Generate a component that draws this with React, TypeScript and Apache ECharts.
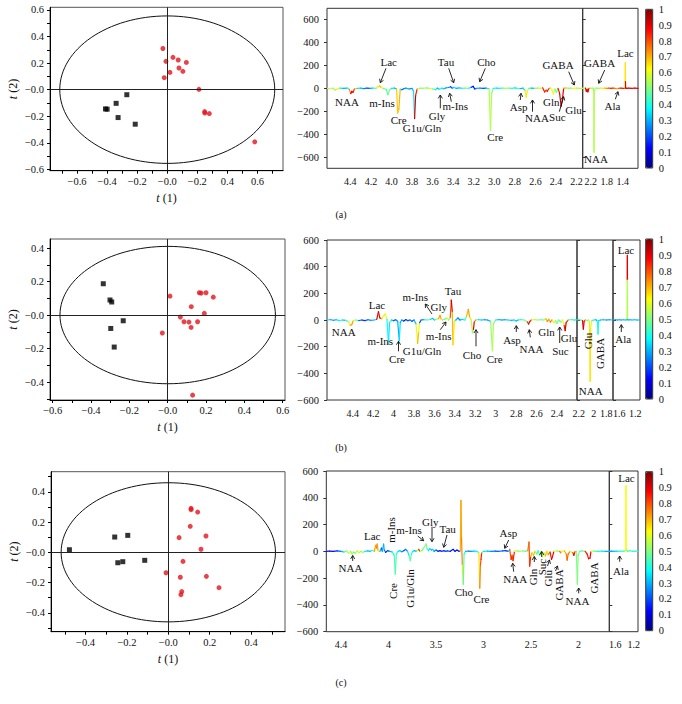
import React, { useEffect, useRef } from 'react';
import * as echarts from 'echarts';

type P3 = [number, number, number];

// ---------------- Score plots (t(1), t(2)) ----------------
const aRedX = [-0.029, -0.009, 0.038, 0.073, 0.127, 0.078, 0.104, 0.018, -0.02, 0.211, 0.249, 0.25, 0.28, 0.582];
const aRedY = [0.31, 0.213, 0.243, 0.223, 0.205, 0.163, 0.138, 0.13, 0.09, 0.002, -0.165, -0.176, -0.18, -0.393];
const aBlackX = [-0.269, -0.34, -0.411, -0.4, -0.327, -0.213];
const aBlackY = [-0.038, -0.103, -0.145, -0.147, -0.21, -0.26];
const aEllipse = [0.715, 0.555];
const aXTicks = [-0.6, -0.4, -0.2, 0, 0.2, 0.4, 0.6];
const aXTickText = ['−0.6', '−0.4', '−0.2', '−0.0', '−0.2', '0.4', '0.6'];
const aYTicks = [-0.6, -0.4, -0.2, 0, 0.2, 0.4, 0.6];
const aYTickText = ['−0.6', '−0.4', '−0.2', '−0.0', '0.2', '0.4', '0.6'];
const aXMinor = [-0.7, -0.6, -0.5, -0.4, -0.3, -0.2, -0.1, 0, 0.1, 0.2, 0.3, 0.4, 0.5, 0.6, 0.7];
const aYMinor = [-0.6, -0.5, -0.4, -0.3, -0.2, -0.1, 0, 0.1, 0.2, 0.3, 0.4, 0.5, 0.6];

const bRedX = [0.012, 0.165, 0.175, 0.2, 0.238, 0.123, 0.191, 0.066, 0.085, 0.111, 0.156, 0.122, -0.028, 0.13];
const bRedY = [0.113, 0.133, 0.131, 0.133, 0.107, 0.05, 0.01, -0.012, -0.04, -0.042, -0.04, -0.074, -0.107, -0.478];
const bBlackX = [-0.336, -0.301, -0.292, -0.232, -0.297, -0.279];
const bBlackY = [0.187, 0.09, 0.078, -0.034, -0.08, -0.191];
const bEllipse = [0.562, 0.41];
const bXTicks = [-0.6, -0.4, -0.2, 0, 0.2, 0.4, 0.6];
const bXTickText = ['−0.6', '−0.4', '−0.2', '−0.0', '0.2', '0.4', '0.6'];
const bYTicks = [-0.4, -0.2, 0, 0.2, 0.4];
const bYTickText = ['−0.4', '−0.2', '−0.0', '0.2', '0.4'];
const bXMinor = [-0.6, -0.5, -0.4, -0.3, -0.2, -0.1, 0, 0.1, 0.2, 0.3, 0.4, 0.5, 0.6];
const bYMinor = [-0.5, -0.4, -0.3, -0.2, -0.1, 0, 0.1, 0.2, 0.3, 0.4];

const cRedX = [0.11, 0.11, 0.142, 0.106, 0.052, 0.182, 0.158, 0.071, -0.011, 0.058, 0.184, 0.245, 0.065, 0.061];
const cRedY = [0.291, 0.282, 0.266, 0.172, 0.097, 0.108, 0.02, -0.06, -0.135, -0.165, -0.159, -0.234, -0.26, -0.28];
const cBlackX = [-0.478, -0.259, -0.196, -0.244, -0.22, -0.114];
const cBlackY = [0.017, 0.101, 0.112, -0.069, -0.062, -0.053];
const cEllipse = [0.518, 0.46];
const cXTicks = [-0.4, -0.2, 0, 0.2, 0.4];
const cXTickText = ['−0.4', '−0.2', '−0.0', '0.2', '0.4'];
const cYTicks = [-0.4, -0.2, 0, 0.2, 0.4];
const cYTickText = ['−0.4', '−0.2', '−0.0', '0.2', '0.4'];
const cXMinor = [-0.5, -0.4, -0.3, -0.2, -0.1, 0, 0.1, 0.2, 0.3, 0.4, 0.5];
const cYMinor = [-0.5, -0.4, -0.3, -0.2, -0.1, 0, 0.1, 0.2, 0.3, 0.4, 0.5];

// ---------------- Coefficient plots: [ppm, coefficient, |r|] ----------------
const specA1: P3[] = [
  [4.627, 0, 0.55], [4.6, -3, 0.6], [4.57, 2, 0.5], [4.545, -15, 0.65], [4.525, -2, 0.6], [4.5, 2, 0.35],
  [4.47, 0, 0.3], [4.43, 3, 0.4], [4.41, -8, 0.75], [4.395, -45, 0.9], [4.385, -25, 0.9], [4.375, -35, 0.85],
  [4.36, -5, 0.7], [4.33, 0, 0.35], [4.3, 3, 0.3], [4.27, -2, 0.25], [4.24, 2, 0.2], [4.21, 0, 0.3],
  [4.18, 3, 0.45], [4.15, 0, 0.55], [4.13, 15, 0.65], [4.115, 22, 0.7], [4.1, 8, 0.6], [4.08, 0, 0.5],
  [4.05, -8, 0.45], [4.035, -55, 0.5], [4.02, -15, 0.45], [4.0, 0, 0.35], [3.97, 3, 0.3], [3.95, -5, 0.68],
  [3.94, -215, 0.68], [3.928, -180, 0.7], [3.915, -5, 0.4], [3.9, -12, 0.2], [3.88, -3, 0.25], [3.86, 2, 0.3],
  [3.83, -5, 0.25], [3.8, 0, 0.3], [3.785, -25, 0.35], [3.775, -262, 0.92], [3.765, -60, 0.85], [3.75, -5, 0.55],
  [3.72, 2, 0.5], [3.69, 0, 0.55], [3.66, 4, 0.5], [3.63, 0, 0.6], [3.6, -4, 0.45], [3.57, -10, 0.35],
  [3.555, 3, 0.3], [3.535, -8, 0.4], [3.51, 2, 0.35], [3.49, -3, 0.3], [3.47, 5, 0.3], [3.445, 8, 0.25],
  [3.425, 15, 0.2], [3.41, 3, 0.3], [3.39, 8, 0.35], [3.37, 0, 0.3], [3.34, 4, 0.35], [3.31, 0, 0.45],
  [3.28, 3, 0.5], [3.25, 0, 0.4], [3.225, 10, 0.15], [3.205, 18, 0.12], [3.19, -5, 0.2], [3.17, 0, 0.3],
  [3.14, 3, 0.25], [3.11, 0, 0.2], [3.08, 2, 0.35], [3.05, -3, 0.55], [3.037, -365, 0.55], [3.025, -40, 0.5],
  [3.01, 0, 0.4], [2.98, 3, 0.35], [2.95, 0, 0.4], [2.92, 2, 0.5], [2.89, 0, 0.55], [2.86, 3, 0.45],
  [2.83, 0, 0.4], [2.8, 4, 0.35], [2.78, 0, 0.45], [2.75, -3, 0.3], [2.72, 2, 0.35], [2.7, -20, 0.6],
  [2.69, -75, 0.65], [2.68, -25, 0.6], [2.665, 0, 0.45], [2.64, 2, 0.3], [2.61, 0, 0.5], [2.58, 3, 0.55],
  [2.55, 0, 0.6], [2.53, 5, 0.85], [2.51, -30, 0.85], [2.495, -15, 0.8], [2.485, -25, 0.88], [2.47, -3, 0.75],
  [2.455, 3, 0.6], [2.44, -10, 0.6], [2.425, -50, 0.6], [2.41, -5, 0.48], [2.395, -35, 0.48], [2.38, 0, 0.85],
  [2.365, -40, 0.92], [2.35, -155, 0.95], [2.338, -100, 0.9], [2.325, 0, 0.7], [2.3, 5, 0.55], [2.28, 0, 0.5],
  [2.26, 3, 0.55], [2.24, 0, 0.6], [2.2, 2, 0.55], [2.17, 0, 0.55], [2.14, 1, 0.55],
];
const specA2: P3[] = [
  [2.4, 0, 0.6], [2.37, 2, 0.55], [2.35, 0, 0.6], [2.33, 2, 0.9], [2.31, -25, 0.9], [2.29, -8, 0.9],
  [2.27, -30, 0.92], [2.25, -3, 0.8], [2.22, 2, 0.6], [2.18, 0, 0.55], [2.14, 3, 0.5], [2.125, -20, 0.55],
  [2.118, -555, 0.55], [2.11, -30, 0.55], [2.09, 0, 0.55], [2.05, 3, 0.5], [2.0, 0, 0.55], [1.95, 2, 0.6],
  [1.9, 0, 0.65], [1.85, 3, 0.7], [1.8, 0, 0.75], [1.75, 2, 0.8], [1.7, 0, 0.85], [1.65, 3, 0.8],
  [1.6, 0, 0.75], [1.55, -2, 0.7], [1.5, 0, 0.8], [1.45, 2, 0.85], [1.4, 0, 0.85], [1.35, 0, 0.8],
  [1.342, 5, 0.65], [1.336, 225, 0.65], [1.333, 60, 0.9], [1.328, 5, 0.95], [1.31, 0, 0.9], [1.25, 2, 0.9],
  [1.18, 0, 0.88], [1.1, 2, 0.9], [1.02, 0, 0.9],
];
const specB1: P3[] = [
  [4.652, 0, 0.35], [4.62, 3, 0.3], [4.59, -2, 0.25], [4.56, 2, 0.35], [4.53, -5, 0.4], [4.5, 0, 0.3],
  [4.47, -3, 0.45], [4.44, -12, 0.6], [4.425, -40, 0.7], [4.41, -35, 0.72], [4.395, -5, 0.6], [4.37, 0, 0.4],
  [4.34, -4, 0.2], [4.31, 0, 0.15], [4.28, -5, 0.2], [4.25, 2, 0.25], [4.22, -3, 0.3], [4.19, 0, 0.35],
  [4.165, 5, 0.9], [4.148, 62, 0.9], [4.135, 15, 0.85], [4.115, 10, 0.6], [4.095, 35, 0.65], [4.08, 45, 0.6],
  [4.065, 5, 0.38], [4.05, -180, 0.35], [4.04, -20, 0.4], [4.02, 0, 0.3], [4.0, -5, 0.2], [3.98, 2, 0.25],
  [3.96, -10, 0.3], [3.944, -155, 0.35], [3.935, -20, 0.3], [3.92, 0, 0.25], [3.9, -8, 0.15], [3.88, 3, 0.2],
  [3.86, -5, 0.2], [3.84, 0, 0.25], [3.82, -10, 0.2], [3.8, 0, 0.3], [3.78, -30, 0.6], [3.765, -175, 0.7],
  [3.755, -90, 0.6], [3.745, -20, 0.2], [3.73, 0, 0.25], [3.7, 3, 0.4], [3.67, 0, 0.5], [3.64, 5, 0.35],
  [3.618, 12, 0.3], [3.6, 0, 0.45], [3.58, 5, 0.55], [3.56, 10, 0.72], [3.545, 35, 0.72], [3.535, 8, 0.65],
  [3.52, 0, 0.5], [3.5, 5, 0.45], [3.48, 15, 0.6], [3.46, 0, 0.5], [3.445, 20, 0.8], [3.435, 150, 0.92],
  [3.425, 60, 0.7], [3.418, -185, 0.65], [3.405, -10, 0.5], [3.39, 0, 0.3], [3.37, 15, 0.25], [3.35, 0, 0.3],
  [3.33, 5, 0.35], [3.3, 0, 0.45], [3.285, 30, 0.7], [3.268, 80, 0.72], [3.255, 20, 0.65], [3.24, 0, 0.55],
  [3.228, -95, 0.5], [3.218, -70, 0.9], [3.21, -15, 0.8], [3.195, 0, 0.5], [3.17, 3, 0.35], [3.14, 0, 0.3],
  [3.11, 2, 0.25], [3.08, 0, 0.3], [3.05, -10, 0.52], [3.032, -230, 0.55], [3.022, -30, 0.5], [3.0, 0, 0.35],
  [2.97, 3, 0.3], [2.94, 0, 0.25], [2.91, 2, 0.3], [2.88, 0, 0.35], [2.85, -3, 0.3], [2.82, 0, 0.35],
  [2.8, -8, 0.3], [2.78, 0, 0.4], [2.75, 3, 0.45], [2.72, 0, 0.5], [2.69, -15, 0.85], [2.678, -30, 0.9],
  [2.665, -10, 0.85], [2.65, 0, 0.6], [2.62, 3, 0.55], [2.59, 0, 0.5], [2.56, 2, 0.45], [2.53, 0, 0.55],
  [2.51, 10, 0.7], [2.495, -10, 0.75], [2.48, 5, 0.7], [2.465, -15, 0.8], [2.45, 0, 0.65], [2.43, -20, 0.6],
  [2.415, -5, 0.5], [2.4, -25, 0.5], [2.385, 0, 0.45], [2.36, -15, 0.55], [2.345, 0, 0.6], [2.33, -40, 0.85],
  [2.32, -80, 0.92], [2.31, -20, 0.85], [2.29, 0, 0.5], [2.26, 3, 0.4], [2.23, 0, 0.35], [2.204, 2, 0.35],
];
const specB2: P3[] = [
  [2.223, 0, 0.4], [2.2, 3, 0.45], [2.17, 0, 0.5], [2.15, -5, 0.9], [2.138, -68, 0.92], [2.128, -10, 0.85],
  [2.11, 0, 0.6], [2.09, -5, 0.5], [2.07, 0, 0.55], [2.055, -20, 0.65], [2.048, -460, 0.65], [2.04, -60, 0.6],
  [2.025, -5, 0.45], [2.0, 0, 0.35], [1.97, 2, 0.3], [1.95, -10, 0.4], [1.943, -105, 0.4], [1.935, -5, 0.35],
  [1.91, 0, 0.3], [1.87, 2, 0.3], [1.83, 0, 0.25], [1.79, 2, 0.3], [1.743, 0, 0.3],
];
const specB3: P3[] = [
  [1.76, 0, 0.3], [1.7, 2, 0.28], [1.65, 0, 0.3], [1.6, 2, 0.28], [1.55, 0, 0.3], [1.5, 2, 0.32],
  [1.45, 0, 0.3], [1.42, 2, 0.3], [1.405, 5, 0.55], [1.398, 300, 0.9], [1.396, 485, 0.9], [1.394, 300, 0.55],
  [1.39, 5, 0.3], [1.38, 0, 0.3], [1.33, 2, 0.3], [1.28, 0, 0.32], [1.22, 2, 0.3], [1.15, 0, 0.3], [1.077, 0, 0.3],
];
const specC1: P3[] = [
  [4.655, 0, 0.15], [4.62, 2, 0.1], [4.58, 0, 0.15], [4.54, 3, 0.2], [4.5, 0, 0.3], [4.47, -5, 0.45],
  [4.44, 3, 0.55], [4.42, -15, 0.6], [4.4, 0, 0.5], [4.385, -20, 0.55], [4.37, -5, 0.45], [4.35, -15, 0.55],
  [4.33, 5, 0.6], [4.31, -10, 0.55], [4.29, 0, 0.5], [4.27, -8, 0.55], [4.25, 0, 0.35], [4.22, 3, 0.3],
  [4.19, 0, 0.35], [4.17, 8, 0.5], [4.15, 0, 0.72], [4.135, 45, 0.72], [4.127, 25, 0.75], [4.12, 55, 0.72],
  [4.11, 5, 0.6], [4.09, 0, 0.3], [4.075, 25, 0.2], [4.065, 0, 0.3], [4.052, 55, 0.3], [4.045, 10, 0.25],
  [4.03, -8, 0.15], [4.01, 5, 0.2], [3.99, 0, 0.3], [3.96, -5, 0.4], [3.94, -30, 0.45], [3.929, -170, 0.45],
  [3.918, -20, 0.4], [3.9, 0, 0.35], [3.88, 5, 0.3], [3.86, -3, 0.25], [3.84, 5, 0.2], [3.82, 15, 0.25],
  [3.8, 0, 0.35], [3.785, -30, 0.45], [3.771, -70, 0.45], [3.76, -20, 0.4], [3.745, 0, 0.35], [3.73, 5, 0.3],
  [3.71, 0, 0.4], [3.695, 8, 0.6], [3.682, 15, 0.85], [3.67, 0, 0.6], [3.65, 5, 0.45], [3.63, 25, 0.5],
  [3.605, 55, 0.5], [3.595, 20, 0.45], [3.58, 5, 0.35], [3.565, 20, 0.35], [3.55, 10, 0.3], [3.535, 15, 0.35],
  [3.52, 0, 0.25], [3.5, 10, 0.2], [3.48, 0, 0.15], [3.46, 5, 0.15], [3.44, 0, 0.2], [3.42, 5, 0.15],
  [3.4, 0, 0.2], [3.38, 3, 0.2], [3.35, 0, 0.15], [3.32, 15, 0.12], [3.3, 0, 0.15], [3.28, 10, 0.12],
  [3.26, 0, 0.2], [3.245, 5, 0.7], [3.238, 380, 0.72], [3.232, 100, 0.75], [3.224, -100, 0.65], [3.214, -245, 0.45],
  [3.205, -20, 0.4], [3.19, 0, 0.3], [3.16, 2, 0.25], [3.13, 0, 0.3], [3.1, 2, 0.35], [3.07, 0, 0.4],
  [3.05, -10, 0.65], [3.04, -275, 0.75], [3.033, -100, 0.8], [3.027, -60, 0.85], [3.02, -10, 0.5], [3.0, 0, 0.35],
  [2.96, 2, 0.3], [2.92, 0, 0.25], [2.88, 2, 0.2], [2.84, 0, 0.25], [2.8, 3, 0.2], [2.77, 5, 0.15],
  [2.74, 0, 0.35], [2.725, 15, 0.8], [2.71, -60, 0.85], [2.7, -30, 0.8], [2.69, -70, 0.85], [2.675, 0, 0.6],
  [2.65, 3, 0.5], [2.62, 0, 0.55], [2.59, 3, 0.5], [2.56, 0, 0.45], [2.535, 5, 0.75], [2.522, 70, 0.8],
  [2.515, -110, 0.85], [2.505, -40, 0.7], [2.49, -10, 0.65], [2.475, -30, 0.7], [2.46, 0, 0.55], [2.44, -20, 0.4],
  [2.425, 5, 0.45], [2.41, -30, 0.5], [2.395, 0, 0.55], [2.38, -40, 0.6], [2.365, -10, 0.55], [2.35, -35, 0.7],
  [2.335, 0, 0.65], [2.32, -25, 0.75], [2.3, -5, 0.85], [2.285, -60, 0.9], [2.275, -40, 0.88], [2.26, 0, 0.6],
  [2.23, 3, 0.5], [2.2, 0, 0.75], [2.19, -10, 0.75], [2.18, 0, 0.6], [2.15, 3, 0.7], [2.13, -20, 0.75],
  [2.121, -65, 0.78], [2.11, -20, 0.75], [2.09, 0, 0.6], [2.06, -10, 0.85], [2.05, -30, 0.88], [2.04, -5, 0.75],
  [2.025, 0, 0.5], [2.013, -245, 0.5], [2.005, -30, 0.5], [1.99, 0, 0.45], [1.96, 3, 0.5], [1.93, 0, 0.85],
  [1.91, -20, 0.85], [1.895, -55, 0.9], [1.88, -50, 0.88], [1.87, 0, 0.6], [1.84, 2, 0.45], [1.8, 0, 0.4],
  [1.76, 2, 0.35], [1.72, 0, 0.3], [1.677, 0, 0.3],
];
const specC2: P3[] = [
  [1.73, 0, 0.3], [1.68, 2, 0.3], [1.63, 0, 0.32], [1.58, 2, 0.35], [1.53, 0, 0.4], [1.48, 2, 0.45],
  [1.43, 0, 0.45], [1.39, 3, 0.5], [1.375, 5, 0.62], [1.368, 490, 0.62], [1.362, 20, 0.6], [1.355, 10, 0.5],
  [1.33, 0, 0.45], [1.28, 5, 0.45], [1.23, 0, 0.4], [1.18, 2, 0.42], [1.107, 0, 0.4],
];

// tick labels of the coefficient plots
const aNmrTicks1 = [4.4, 4.2, 4.0, 3.8, 3.6, 3.4, 3.2, 3.0, 2.8, 2.6, 2.4, 2.2];
const aNmrText1 = ['4.4', '4.2', '4.0', '3.8', '3.6', '3.4', '3.2', '3.0', '2.8', '2.6', '2.4', '2.2'];
const aNmrTicks2 = [2.2, 1.8, 1.4];
const aNmrText2 = ['2.2', '1.8', '1.4'];
const bNmrTicks1 = [4.4, 4.2, 4, 3.8, 3.6, 3.4, 3.2, 3, 2.8, 2.6, 2.4];
const bNmrText1 = ['4.4', '4.2', '4', '3.8', '3.6', '3.4', '3.2', '3', '2.8', '2.6', '2.4'];
const bNmrTicks2 = [2.2, 2, 1.8];
const bNmrText2 = ['2.2', '2', '{l|1.8}'];
const bNmrTicks3 = [1.6, 1.2];
const bNmrText3 = ['1.6', '1.2'];
const cNmrTicks1 = [4.5, 4, 3.5, 3, 2.5, 2];
const cNmrText1 = ['4.4', '4', '3.5', '3', '2.5', '2'];
const cNmrTicks2 = [1.6, 1.2];
const cNmrText2 = ['1.6', '1.2'];
const nmrYTicks = [-600, -400, -200, 0, 200, 400, 600];
const nmrYText = ['−600', '−400', '−200', '0', '200', '400', '600'];
const cbTicks = [0, 0.1, 0.2, 0.3, 0.4, 0.5, 0.6, 0.7, 0.8, 0.9, 1];
const cbText = ['0', '0.1', '0.2', '0.3', '0.4', '0.5', '0.6', '0.7', '0.8', '0.9', '1'];

// metabolite annotations: [label, x, y, vertical]
const annA: [string, number, number, number][] = [
  ['NAA', 347, 101.7, 0], ['Lac', 388.7, 61.7, 0], ['m-Ins', 382, 102.7, 0], ['Cre', 398.7, 120, 0],
  ['G1u/Gln', 422, 128.3, 0], ['Gly', 437, 116, 0], ['m-Ins', 455.3, 106, 0], ['Tau', 446, 61.7, 0],
  ['Cho', 486.3, 61.7, 0], ['Cre', 495.3, 136.7, 0], ['Asp', 518.7, 106.7, 0], ['NAA', 537, 118, 0],
  ['Gln', 551.3, 101.7, 0], ['Suc', 557.3, 117.3, 0], ['Glu', 573.5, 110, 0], ['GABA', 558, 65, 0],
  ['GABA', 599.5, 63.3, 0], ['Lac', 625.5, 52.7, 0], ['NAA', 596, 159.3, 0], ['Ala', 612.5, 106, 0],
];
const arrA: number[][] = [
  [386, 68.3, 380.3, 82.7], [440.3, 108.3, 440.3, 95], [451.3, 101.7, 449.7, 93.3], [448.7, 68.3, 453.7, 82.7],
  [485.3, 68.3, 479.7, 81.7], [520.3, 100, 521, 93.3], [532.5, 111.7, 532.5, 100], [559.3, 111.7, 563.7, 96.7],
  [568.7, 71.7, 574.3, 85], [604.7, 70, 598.7, 83.3], [615.3, 99.3, 618, 91.7],
];
const annB: [string, number, number, number][] = [
  ['NAA', 343.7, 332.3, 0], ['Lac', 377, 304.7, 0], ['m-Ins', 380.3, 340.7, 0], ['Cre', 397, 359, 0],
  ['G1u/Gln', 422, 350.7, 0], ['m-Ins', 415.3, 297.3, 0], ['Gly', 438.7, 307.3, 0], ['m-Ins', 438.7, 336.3, 0],
  ['Tau', 453, 290.7, 0], ['Cho', 472, 354.7, 0], ['Cre', 494.7, 358.7, 0], ['Asp', 512, 339.5, 0],
  ['NAA', 531.5, 349, 0], ['Gln', 546.5, 332.3, 0], ['Suc', 560.5, 351.3, 0], ['Glu', 569, 337.5, 0],
  ['Glu', 587.5, 341, 1], ['GABA', 599.7, 353.5, 1], ['NAA', 590.7, 390.5, 0], ['Lac', 626, 249.5, 0],
  ['Ala', 623.2, 339.2, 0],
];
const arrB: number[][] = [
  [398.5, 351.3, 398.5, 341.3], [432, 314, 425.3, 304], [440.3, 329.7, 446, 322], [476, 346.3, 476, 329.7],
  [516.3, 332, 516.3, 325.7], [530.3, 337.3, 529.3, 329.7], [559.7, 343, 559.7, 327], [621.3, 332, 621.3, 324.7],
];
const annC: [string, number, number, number][] = [
  ['NAA', 350.5, 568.3, 0], ['Lac', 372.2, 536.4, 0], ['m-Ins', 390.7, 530, 1], ['Cre', 393.2, 591, 1],
  ['G1u/Gln', 410.2, 588.5, 1], ['m-Ins', 409, 530, 0], ['Gly', 430.2, 521.7, 0], ['Tau', 447.7, 529, 0],
  ['Cho', 463.8, 592, 0], ['Cre', 481.5, 599.2, 0], ['Asp', 508.3, 532.5, 0], ['NAA', 515.2, 579, 0],
  ['Gln', 533.3, 577, 1], ['Suc', 541.7, 567, 1], ['Glu', 548.3, 578.3, 1], ['GABA', 559, 585, 1],
  ['NAA', 577.5, 600.7, 0], ['GABA', 593.5, 578, 1], ['Lac', 626.5, 477.5, 0], ['Ala', 621, 570.5, 0],
];
const arrC: number[][] = [
  [352.7, 561, 352.7, 555.5], [417.7, 536, 423.7, 540.7], [432, 526.7, 432, 541.7], [447, 535, 443.7, 547.3],
  [508.7, 540, 504.7, 548.3], [513.7, 571.7, 512.7, 563.3], [534.3, 562, 534.3, 556.5], [541.7, 557, 541.7, 551.5],
  [547.5, 566, 549.5, 560], [555.5, 571, 557.5, 566], [578.7, 593.3, 578.7, 588], [619.7, 561.7, 619.7, 556],
];
const panelLabels: [string, number, number][] = [['(a)', 341, 214], ['(b)', 341, 447], ['(c)', 341, 682]];

// ---------------- styling ----------------
const FONT = "'Liberation Serif', 'Times New Roman', serif";
const INK = '#111';
const JET = ['#00007f', '#0000ff', '#007fff', '#00ffff', '#7fff7f', '#ffff00', '#ff7f00', '#ff0000', '#7f0000'];

function lookup(vals: number[], texts: string[]) {
  return (v: number) => {
    const i = vals.findIndex((t) => Math.abs(t - v) < 1e-6);
    return i >= 0 ? texts[i] : '';
  };
}
function zip(xs: number[], ys: number[]) {
  return xs.map((x, i) => [x, ys[i]]);
}
function segments(spec: P3[]) {
  const out: number[][] = [];
  for (let i = 0; i < spec.length - 1; i++) {
    out.push([spec[i][0], spec[i][1], spec[i + 1][0], spec[i + 1][1], spec[i][2]]);
  }
  return out;
}

function buildOption() {
  const grid: any[] = [];
  const xAxis: any[] = [];
  const yAxis: any[] = [];
  const series: any[] = [];
  const visualMap: any[] = [];
  const graphic: any[] = [];

  const addGrid = (rect: any, xa: any, ya: any, extra: any = {}) => {
    const gi = grid.length;
    grid.push({ ...rect, show: true, borderColor: '#333', borderWidth: 1, backgroundColor: 'rgba(0,0,0,0)', containLabel: false, ...extra });
    xAxis.push({ gridIndex: gi, type: 'value', splitLine: { show: false }, ...xa });
    yAxis.push({ gridIndex: gi, type: 'value', splitLine: { show: false }, ...ya });
    return gi;
  };
  const label = (vals: number[], texts: string[], extra: any = {}) => ({
    show: true, customValues: vals, formatter: lookup(vals, texts), fontFamily: FONT, fontSize: 10.5, color: INK, ...extra,
  });
  const nameStyle = {
    fontFamily: FONT, fontSize: 12, color: INK,
    rich: { i: { fontFamily: FONT, fontSize: 12, fontStyle: 'italic', color: INK } },
  };

  const ellipseItem = (_p: any, api: any) => {
    const c = api.coord([api.value(0), api.value(1)]);
    const s = api.size([api.value(2), api.value(3)]);
    return { type: 'ellipse', shape: { cx: c[0], cy: c[1], rx: s[0], ry: s[1] }, style: { fill: 'none', stroke: INK, lineWidth: 1 } };
  };
  const lineItem = (_p: any, api: any) => {
    const p1 = api.coord([api.value(0), api.value(1)]);
    const p2 = api.coord([api.value(2), api.value(3)]);
    return { type: 'line', shape: { x1: p1[0], y1: p1[1], x2: p2[0], y2: p2[1] }, style: { stroke: api.visual('color'), lineWidth: 1.2, lineCap: 'round' } };
  };

  const scatterPanel = (p: any) => {
    const gi = addGrid(
      p.rect,
      {
        min: p.xr[0], max: p.xr[1],
        axisLine: { show: true, onZero: false, lineStyle: { color: '#000', width: 1 } },
        axisTick: { show: true, customValues: p.xMinor, length: 3, lineStyle: { color: '#000' } },
        axisLabel: label(p.xTicks, p.xText, { margin: 5 }),
        name: '{i|t} (1)', nameLocation: 'middle', nameGap: 21, nameTextStyle: nameStyle,
      },
      {
        min: p.yr[0], max: p.yr[1],
        axisLine: { show: true, onZero: false, lineStyle: { color: '#000', width: 1 } },
        axisTick: { show: true, customValues: p.yMinor, length: 3, lineStyle: { color: '#000' } },
        axisLabel: label(p.yTicks, p.yText, { margin: 6 }),
        name: '{i|t} (2)', nameLocation: 'middle', nameRotate: 90, nameGap: 31, nameTextStyle: nameStyle,
      },
      { borderColor: '#555' }
    );
    series.push({ type: 'custom', xAxisIndex: gi, yAxisIndex: gi, silent: true, clip: false, z: 1, data: [[0, 0, p.ell[0], p.ell[1]]], renderItem: ellipseItem });
    series.push({
      type: 'scatter', xAxisIndex: gi, yAxisIndex: gi, silent: true, z: 3, symbol: 'circle', symbolSize: 5,
      itemStyle: { color: '#e3141b' }, data: zip(p.redX, p.redY),
      markLine: { silent: true, symbol: ['none', 'none'], label: { show: false }, lineStyle: { color: '#222', type: 'solid', width: 1 }, data: [{ xAxis: 0 }, { yAxis: 0 }] },
    });
    series.push({ type: 'scatter', xAxisIndex: gi, yAxisIndex: gi, silent: true, z: 3, symbol: 'rect', symbolSize: 5, itemStyle: { color: '#000' }, data: zip(p.blackX, p.blackY) });
  };

  const nmrRow = (segs: any[], yr: number[], cb: any) => {
    const idxs: number[] = [];
    segs.forEach((s, k) => {
      const gi = addGrid(
        s.rect,
        {
          inverse: true, min: s.xr[0], max: s.xr[1], axisLine: { show: false }, axisTick: { show: false },
          axisLabel: label(s.ticks, s.text, {
            margin: 8, fontSize: 10,
            rich: { l: { fontFamily: FONT, fontSize: 10, color: INK, padding: [0, 5, 0, 0] } },
          }),
        },
        {
          min: yr[0], max: yr[1], axisLine: { show: false },
          axisTick: { show: true, inside: k > 0, customValues: nmrYTicks, length: 3, lineStyle: { color: '#333' } },
          axisLabel: k === 0 ? label(nmrYTicks, nmrYText, { margin: 8 }) : { show: false },
        }
      );
      idxs.push(series.length);
      series.push({
        type: 'custom', xAxisIndex: gi, yAxisIndex: gi, silent: true, clip: true, z: 2,
        dimensions: ['x1', 'y1', 'x2', 'y2', 'r'], encode: { x: [0, 2], y: [1, 3] },
        data: segments(s.spec), renderItem: lineItem,
      });
    });
    visualMap.push({
      type: 'continuous', min: 0, max: 1, dimension: 4, seriesIndex: idxs, inRange: { color: JET },
      orient: 'vertical', left: cb.left, top: cb.top, itemWidth: cb.width, itemHeight: cb.height,
      padding: 0, calculable: false, realtime: false, hoverLink: false, text: null,
    });
    addGrid(
      cb,
      { show: false, min: 0, max: 1 },
      { min: 0, max: 1, position: 'right', axisLine: { show: false }, axisTick: { show: false }, axisLabel: label(cbTicks, cbText, { margin: 6 }) },
      { z: 10, borderColor: '#333' }
    );
  };

  // Row (a)
  scatterPanel({
    rect: { left: 50, top: 7.3, width: 233, height: 163.4 }, xr: [-0.78, 0.77], yr: [-0.61, 0.62],
    xTicks: aXTicks, xText: aXTickText, yTicks: aYTicks, yText: aYTickText, xMinor: aXMinor, yMinor: aYMinor,
    ell: aEllipse, redX: aRedX, redY: aRedY, blackX: aBlackX, blackY: aBlackY,
  });
  nmrRow(
    [
      { rect: { left: 327, top: 8.3, width: 255.7, height: 160 }, xr: [2.14, 4.627], ticks: aNmrTicks1, text: aNmrText1, spec: specA1 },
      { rect: { left: 582.7, top: 8.3, width: 55.3, height: 160 }, xr: [1.02, 2.4], ticks: aNmrTicks2, text: aNmrText2, spec: specA2 },
    ],
    [-695, 697],
    { left: 645.7, top: 9.3, width: 7, height: 158.7 }
  );
  // Row (b)
  scatterPanel({
    rect: { left: 50, top: 239, width: 235, height: 161 }, xr: [-0.614, 0.612], yr: [-0.507, 0.454],
    xTicks: bXTicks, xText: bXTickText, yTicks: bYTicks, yText: bYTickText, xMinor: bXMinor, yMinor: bYMinor,
    ell: bEllipse, redX: bRedX, redY: bRedY, blackX: bBlackX, blackY: bBlackY,
  });
  nmrRow(
    [
      { rect: { left: 327, top: 240, width: 250, height: 160 }, xr: [2.204, 4.652], ticks: bNmrTicks1, text: bNmrText1, spec: specB1 },
      { rect: { left: 577, top: 240, width: 36, height: 160 }, xr: [1.743, 2.223], ticks: bNmrTicks2, text: bNmrText2, spec: specB2 },
      { rect: { left: 613, top: 240, width: 27, height: 160 }, xr: [1.077, 1.76], ticks: bNmrTicks3, text: bNmrText3, spec: specB3 },
    ],
    [-600, 600],
    { left: 645.7, top: 239, width: 7, height: 160 }
  );
  // Row (c)
  scatterPanel({
    rect: { left: 51, top: 471.7, width: 234, height: 160 }, xr: [-0.567, 0.564], yr: [-0.525, 0.533],
    xTicks: cXTicks, xText: cXTickText, yTicks: cYTicks, yText: cYTickText, xMinor: cXMinor, yMinor: cYMinor,
    ell: cEllipse, redX: cRedX, redY: cRedY, blackX: cBlackX, blackY: cBlackY,
  });
  nmrRow(
    [
      { rect: { left: 326.3, top: 471, width: 283, height: 160.7 }, xr: [1.677, 4.655], ticks: cNmrTicks1, text: cNmrText1, spec: specC1 },
      { rect: { left: 609.3, top: 471, width: 28.7, height: 160.7 }, xr: [1.107, 1.73], ticks: cNmrTicks2, text: cNmrText2, spec: specC2 },
    ],
    [-600, 600],
    { left: 645.7, top: 471.7, width: 7, height: 159 }
  );

  // annotations
  const annText = (t: string, x: number, y: number, vert: number, size = 11) => ({
    type: 'text', x, y, rotation: vert ? Math.PI / 2 : 0, silent: true, z: 100,
    style: { text: t, fill: INK, fontFamily: FONT, fontSize: size, align: 'center', verticalAlign: 'middle' },
  });
  const arrow = (a: number[]) => {
    const [x1, y1, x2, y2] = a;
    const ang = Math.atan2(y2 - y1, x2 - x1);
    const L = 4;
    const w = 0.55;
    const h1 = [x2 - L * Math.cos(ang - w), y2 - L * Math.sin(ang - w)];
    const h2 = [x2 - L * Math.cos(ang + w), y2 - L * Math.sin(ang + w)];
    return [
      { type: 'line', silent: true, z: 100, shape: { x1, y1, x2, y2 }, style: { stroke: INK, lineWidth: 0.9 } },
      { type: 'polyline', silent: true, z: 100, shape: { points: [h1, [x2, y2], h2] }, style: { stroke: INK, fill: null, lineWidth: 0.9 } },
    ];
  };
  [annA, annB, annC].forEach((list) => list.forEach((a) => graphic.push(annText(a[0], a[1], a[2], a[3]))));
  [arrA, arrB, arrC].forEach((list) => list.forEach((a) => graphic.push(...arrow(a))));
  panelLabels.forEach((p) => graphic.push(annText(p[0], p[1], p[2], 0, 10)));

  return { animation: false, backgroundColor: '#fff', grid, xAxis, yAxis, series, visualMap, graphic };
}

export default function App() {
  const ref = useRef<HTMLDivElement>(null);
  useEffect(() => {
    if (!ref.current) return;
    const chart = echarts.init(ref.current, undefined, { renderer: 'svg' });
    chart.setOption(buildOption() as any);
    return () => chart.dispose();
  }, []);
  return <div ref={ref} style={{ position: 'absolute', left: 0, top: 0, width: 682, height: 704, background: '#fff' }} />;
}
